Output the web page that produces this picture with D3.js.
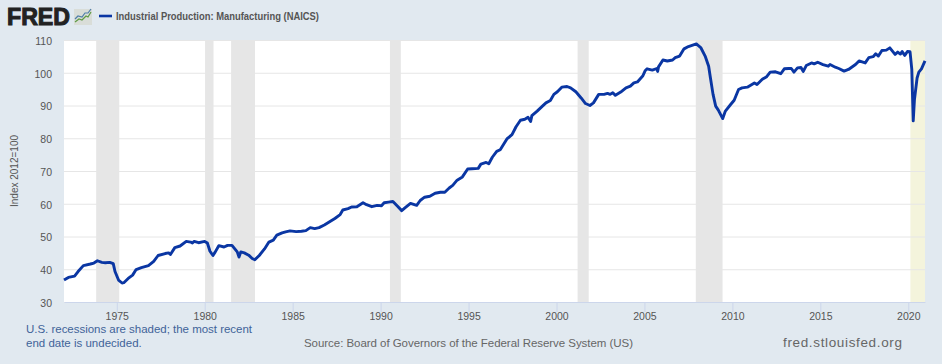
<!DOCTYPE html>
<html>
<head>
<meta charset="utf-8">
<script src="https://cdn.jsdelivr.net/npm/d3@7"></script>
<style>
  html, body {margin:0; padding:0; background:#e1e9f0;}
  svg {display:block; font-family:"Liberation Sans", Arial, sans-serif;}
</style>
</head>
<body>
<svg id="chart"></svg>
<script>
var years = [
  1972.0,1972.25,1972.6,1972.8,1973.1,1973.5,1973.7,1973.9,1974.15,1974.35,1974.6,1974.8,1974.9,
  1975.1,1975.3,1975.4,1975.65,1975.9,1976.1,1976.4,1976.8,1977.1,1977.35,1977.75,1977.95,
  1978.05,1978.3,1978.6,1978.95,1979.2,1979.3,1979.4,1979.65,1980.0,1980.15,1980.3,1980.47,
  1980.6,1980.8,1981.1,1981.3,1981.55,1981.7,1981.85,1981.95,1982.05,1982.25,1982.5,1982.7,
  1982.85,1983.1,1983.4,1983.65,1983.9,1984.1,1984.4,1984.6,1984.85,1985.2,1985.5,1985.75,
  1986.0,1986.25,1986.5,1986.8,1987.1,1987.4,1987.7,1987.85,1988.15,1988.35,1988.65,1989.0,
  1989.2,1989.5,1989.8,1990.05,1990.2,1990.45,1990.7,1990.95,1991.2,1991.4,1991.7,1992.05,
  1992.25,1992.5,1992.8,1993.1,1993.4,1993.65,1993.9,1994.1,1994.35,1994.65,1994.95,1995.2,
  1995.55,1995.7,1996.0,1996.15,1996.35,1996.6,1996.8,1997.18,1997.47,1997.7,1997.95,1998.2,
  1998.38,1998.53,1998.6,1998.9,1999.2,1999.4,1999.65,1999.85,2000.05,2000.3,2000.6,2000.8,
  2001.1,2001.4,2001.65,2001.9,2002.1,2002.4,2002.7,2002.9,2003.05,2003.2,2003.35,2003.65,
  2003.95,2004.2,2004.4,2004.6,2004.9,2005.05,2005.15,2005.45,2005.7,2005.75,2005.8,2006.05,
  2006.3,2006.6,2006.75,2007.0,2007.25,2007.5,2007.95,2008.2,2008.45,2008.65,2008.75,2008.9,
  2009.05,2009.2,2009.45,2009.6,2009.9,2010.1,2010.35,2010.55,2010.85,2011.25,2011.4,2011.7,
  2011.95,2012.15,2012.45,2012.75,2012.95,2013.2,2013.35,2013.5,2013.7,2013.9,2014.03,2014.2,
  2014.5,2014.65,2014.85,2015.15,2015.45,2015.55,2015.85,2016.05,2016.35,2016.6,2017.0,2017.2,
  2017.55,2017.75,2018.0,2018.15,2018.3,2018.5,2018.75,2018.95,2019.25,2019.4,2019.55,2019.65,
  2019.8,2019.95,2020.1,2020.2,2020.28,2020.35,2020.5,2020.6,2020.75,2020.95
]
var values = [
  36.7,37.5,37.9,39.3,41.1,41.6,41.9,42.6,42.1,42,42.1,41.7,39.3,
  36.7,35.8,35.9,37.2,38.2,39.9,40.5,41.1,42.4,44.2,44.8,45,
  44.5,46.6,47.1,48.5,48.3,48,48.5,48.1,48.5,48,45.5,44.2,
  45.3,47.2,46.8,47.3,47.3,46.3,45.3,43.7,45.3,45,44.3,43.3,
  42.9,44.2,46.2,48.3,48.9,50.4,51.1,51.4,51.7,51.5,51.6,51.8,
  52.7,52.4,52.7,53.5,54.5,55.5,56.7,58.1,58.5,59,59.1,60.3,
  59.7,59.1,59.5,59.4,60.3,60.5,60.7,59.3,57.9,58.8,60.1,59.5,
  61,62,62.3,63.2,63.5,63.5,64.8,65.6,67.2,68.2,70.6,70.7,
  70.8,72.1,72.6,72.2,74.2,76,76.5,79.8,81.1,83.5,85.5,85.8,
  86.4,85.1,86.9,88.3,89.8,90.8,91.5,93.4,94.2,95.6,95.8,95.4,
  94.2,92.3,90.6,90,90.8,93.4,93.4,93.7,93.4,93.9,93.1,94.1,
  95.4,95.9,96.9,97.2,99,100.7,101.2,100.8,101.3,100.4,101.8,103.9,
  103.6,103.9,104.6,105.1,107.3,108,108.8,107.7,105.1,102,98.5,93.4,
  89.8,88.6,86,88.3,90.3,91.6,94.9,95.4,95.6,96.9,96.4,98,
  98.8,100.2,100.3,99.7,101.2,101.3,101.3,100.2,101.5,101.6,100.4,102.2,
  103,102.7,103.2,102.5,102,102.5,101.7,101.3,100.5,101,102.5,103.6,
  103,104.6,104.9,105.8,105.1,106.8,106.9,107.6,105.6,106.3,105.7,106.5,
  105.3,106.5,106.4,101,85.3,91.8,98.4,100.2,101.2,103.6
]
var recessionStart = [1973.83, 1980.02, 1981.5, 1990.53, 2001.2, 2007.92]
var recessionEnd = [1975.14, 1980.5, 1982.86, 1991.15, 2001.83, 2009.44]
var openRecession = [2020.12, 2020.95]
var yTicks = [30, 40, 50, 60, 70, 80, 90, 100, 110]
var xTicks = [1975, 1980, 1985, 1990, 1995, 2000, 2005, 2010, 2015, 2020]

var screen = {width: 942, height: 364}
var margins = {top: 40, bottom: 62, left: 64, right: 17}
var width = screen.width - margins.left - margins.right
var height = screen.height - margins.top - margins.bottom

var svg = d3.select("#chart")
            .attr("width", screen.width)
            .attr("height", screen.height)

var xScale = d3.scaleLinear().domain([1972, 2020.95]).range([margins.left, margins.left + width])
var yScale = d3.scaleLinear().domain([30, 110]).range([margins.top + height, margins.top])

// plot background
svg.append("rect")
   .attr("x", margins.left)
   .attr("y", margins.top)
   .attr("width", width)
   .attr("height", height)
   .attr("fill", "#ffffff")

// recessions go under the grid lines
svg.selectAll("rect.recession").data(recessionStart).enter().append("rect")
   .attr("class", "recession")
   .attr("x", function(d){return xScale(d)})
   .attr("y", margins.top)
   .attr("width", function(d, i){return xScale(recessionEnd[i]) - xScale(d)})
   .attr("height", height)
   .attr("fill", "#e6e6e6")

svg.append("rect")
   .attr("x", xScale(openRecession[0]))
   .attr("y", margins.top)
   .attr("width", xScale(openRecession[1]) - xScale(openRecession[0]))
   .attr("height", height)
   .attr("fill", "#f4f4dc")

// y axis with the ticks used as grid lines
var yAxis = svg.append("g")
   .attr("transform", "translate(" + margins.left + ",0)")
   .call(d3.axisLeft(yScale).tickValues(yTicks).tickSize(-width).tickPadding(12))
yAxis.select(".domain").remove()
yAxis.selectAll("line").attr("stroke", "#e6e6e6")
yAxis.selectAll("text")
     .attr("dy", "0.42em")
     .style("font-size", "10.5px")
     .style("font-family", "'Liberation Sans', Arial, sans-serif")
     .attr("fill", "#555555")

var xAxis = svg.append("g")
   .attr("transform", "translate(0," + (margins.top + height) + ")")
   .call(d3.axisBottom(xScale).tickValues(xTicks).tickFormat(d3.format("d")).tickSize(10).tickPadding(1).tickSizeOuter(0))
xAxis.select(".domain").attr("stroke", "#ccd6eb")
xAxis.selectAll("line").attr("stroke", "#ccd6eb")
xAxis.selectAll("text")
     .style("font-size", "10.5px")
     .style("font-family", "'Liberation Sans', Arial, sans-serif")
     .attr("fill", "#555555")

// the series
var line = d3.line()
   .x(function(d, i){return xScale(years[i])})
   .y(function(d){return yScale(d)})

svg.append("path")
   .datum(values)
   .attr("d", line)
   .attr("fill", "none")
   .attr("stroke", "#0a36a3")
   .attr("stroke-width", 2.9)
   .attr("stroke-linejoin", "round")

svg.append("text")
   .attr("transform", "translate(18,171)rotate(-90)")
   .attr("text-anchor", "middle")
   .attr("font-size", "10px")
   .attr("fill", "#555555")
   .text("Index 2012=100")

// header: logo and legend
svg.append("text")
   .attr("x", 7)
   .attr("y", 25)
   .attr("font-size", "24.5px")
   .attr("font-weight", "bold")
   .attr("fill", "#222222")
   .attr("stroke", "#222222")
   .attr("stroke-width", 1.1)
   .attr("textLength", 63)
   .attr("lengthAdjust", "spacingAndGlyphs")
   .text("FRED")

svg.append("rect")
   .attr("x", 74).attr("y", 9).attr("width", 18).attr("height", 16)
   .attr("fill", "#d9ddd8")
svg.append("path")
   .attr("d", "M75,22L79,19L82,20L86,16L88,17L91,12")
   .attr("fill", "none").attr("stroke", "#5f9a45").attr("stroke-width", 1.2)
svg.append("path")
   .attr("d", "M75,19L78,16L82,17L85,13L88,13L91,9")
   .attr("fill", "none").attr("stroke", "#4f7ea8").attr("stroke-width", 1.2)

svg.append("line")
   .attr("x1", 99).attr("x2", 112).attr("y1", 16).attr("y2", 16)
   .attr("stroke", "#0a36a3").attr("stroke-width", 2.6)

svg.append("text")
   .attr("x", 116)
   .attr("y", 20)
   .attr("font-size", "10.5px")
   .attr("font-weight", "bold")
   .attr("fill", "#555555")
   .attr("textLength", 203)
   .attr("lengthAdjust", "spacingAndGlyphs")
   .text("Industrial Production: Manufacturing (NAICS)")

// footer
svg.append("text").attr("x", 26).attr("y", 333)
   .attr("font-size", "11.5px").attr("fill", "#3f6399")
   .attr("textLength", 226)
   .text("U.S. recessions are shaded; the most recent")
svg.append("text").attr("x", 26).attr("y", 347)
   .attr("font-size", "11.5px").attr("fill", "#3f6399")
   .text("end date is undecided.")
svg.append("text").attr("x", 304).attr("y", 347)
   .attr("font-size", "11.5px").attr("fill", "#666666")
   .attr("textLength", 329)
   .text("Source: Board of Governors of the Federal Reserve System (US)")
svg.append("text").attr("x", 783).attr("y", 347)
   .attr("font-size", "13.5px").attr("fill", "#666666")
   .attr("textLength", 119)
   .text("fred.stlouisfed.org")
</script>
</body>
</html>
